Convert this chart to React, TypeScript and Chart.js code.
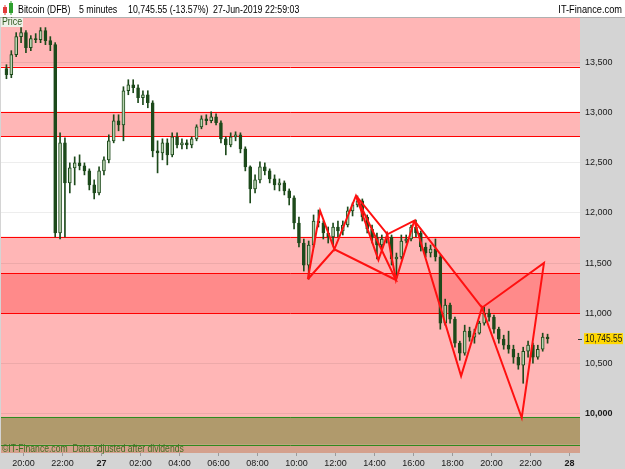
import React, { useEffect, useRef } from 'react';
import { Chart, registerables } from 'chart.js';

Chart.register(...registerables);

// 15-minute candles, first one starts 26-Jun-2019 19:00 (x = hours since 26-Jun 00:00)
const firstCandleHour = 19;
const candleStepHours = 0.25;

const candleOpen = [
  13440, 13380, 13580, 13760, 13800, 13650, 13740, 13730, 13820, 13720,
  13680, 11800, 12700, 12300, 12450, 12500, 12470, 12420, 12280, 12200,
  12420, 12530, 12720, 12920, 12880, 13220, 13280, 13250, 13150, 13180,
  13100, 12620, 12600, 12700, 12580, 12760, 12680, 12700, 12680, 12740,
  12860, 12940, 12920, 12960, 12900, 12740, 12680, 12760, 12780, 12640,
  12460, 12240, 12330, 12460, 12420, 12340, 12280, 12300, 12220, 12150,
  11900, 11700, 11480, 11680, 11920, 11900, 11800, 11760, 11860, 11820,
  11880, 12020, 12080, 12120, 11960, 11840, 11760, 11680, 11740, 11760,
  11540, 11560, 11720, 11740, 11860, 11800, 11660, 11600, 11640, 11560,
  10900, 11080, 10940, 10700, 10600, 10820, 10760, 10800, 10900, 11000,
  10960, 10840, 10740, 10680, 10640, 10560, 10480, 10620, 10680, 10560,
  10640, 10760,
];
const candleHigh = [
  13480, 13620, 13800, 13850, 13820, 13770, 13790, 13850, 13850, 13760,
  13700, 12800, 12750, 12500, 12560, 12580, 12500, 12440, 12330, 12460,
  12560, 12780, 12980, 12980, 13260, 13330, 13330, 13280, 13220, 13220,
  13120, 12720, 12740, 12740, 12800, 12800, 12740, 12730, 12760, 12880,
  12970, 12980, 13010, 12990, 12920, 12760, 12800, 12810, 12800, 12660,
  12470, 12380, 12510, 12500, 12440, 12380, 12340, 12320, 12240, 12170,
  11960, 11740, 11720, 11980, 12030, 11920, 11860, 11900, 11920, 11920,
  12060, 12100, 12170, 12140, 11980, 11880, 11800, 11780, 11810, 11780,
  11600, 11780, 11780, 11880, 11930, 11820, 11700, 11680, 11740, 11580,
  11140, 11100, 10960, 10720, 10880, 10860, 10840, 10920, 11060, 11040,
  10980, 10860, 10780, 10820, 10680, 10600, 10660, 10720, 10700, 10680,
  10800, 10790,
];
const candleLow = [
  13340, 13350, 13560, 13700, 13600, 13620, 13700, 13700, 13680, 13620,
  11760, 11740, 11760, 12200, 12280, 12430, 12380, 12230, 12140, 12180,
  12380, 12500, 12700, 12820, 12720, 13180, 13200, 13100, 13080, 13050,
  12560, 12400, 12530, 12480, 12560, 12650, 12640, 12640, 12650, 12720,
  12840, 12880, 12900, 12880, 12700, 12580, 12660, 12720, 12600, 12420,
  12100, 12200, 12300, 12380, 12300, 12230, 12220, 12180, 12080, 11840,
  11660, 11420, 11340, 11660, 11860, 11740, 11700, 11670, 11760, 11780,
  11860, 11970, 12060, 11920, 11800, 11700, 11540, 11620, 11700, 11480,
  11350, 11540, 11700, 11720, 11760, 11620, 11560, 11560, 11520, 10840,
  10880, 10900, 10660, 10530, 10580, 10720, 10700, 10790, 10880, 10920,
  10800, 10700, 10640, 10600, 10500, 10440, 10300, 10560, 10500, 10540,
  10620, 10700,
];
const candleClose = [
  13380, 13580, 13760, 13800, 13650, 13740, 13730, 13820, 13720, 13680,
  11800, 12700, 12300, 12450, 12500, 12470, 12420, 12280, 12200, 12420,
  12530, 12720, 12920, 12880, 13220, 13280, 13250, 13150, 13180, 13100,
  12620, 12600, 12700, 12580, 12760, 12680, 12700, 12680, 12740, 12860,
  12940, 12920, 12960, 12900, 12740, 12680, 12760, 12780, 12640, 12460,
  12240, 12330, 12460, 12420, 12340, 12280, 12300, 12220, 12150, 11900,
  11700, 11480, 11680, 11920, 11900, 11800, 11760, 11860, 11820, 11880,
  12020, 12080, 12120, 11960, 11840, 11760, 11680, 11740, 11760, 11540,
  11560, 11720, 11740, 11860, 11800, 11660, 11600, 11640, 11560, 10900,
  11080, 10940, 10700, 10600, 10820, 10760, 10800, 10900, 11000, 10960,
  10840, 10740, 10680, 10640, 10560, 10480, 10620, 10680, 10560, 10640,
  10760, 10745.55,
];

// Harmonic pattern pivots X, A, B, C, D (hours, price)
const pattern1Hours = [34.58, 35.21, 35.94, 37.05, 39.1];
const pattern1Prices = [11338, 12022, 11637, 12172, 11331];
const pattern2Hours = [37.05, 38.2, 38.66, 39.1, 40.04];
const pattern2Prices = [12172, 11530, 11787, 11331, 11923];
const pattern3Hours = [40.04, 42.44, 43.51, 45.55, 46.69];
const pattern3Prices = [11923, 10372, 11054, 9956, 11500];

// Horizontal support / resistance levels
const redLevels = [13460, 13010, 12765, 11763, 11401, 11000];
const greenLevels = [9965, 9685];
// Background zones: upper / lower price (null = chart edge)
const zoneUpper = [null, 13010, 11763, 11401, 11000, 9965, 9685];
const zoneLower = [13460, 12765, 11401, 11000, 9965, 9685, null];
const zoneKinds = ['pink', 'pink', 'pink', 'salmon', 'pink', 'tan', 'strip'];

const timeTickHours = [20, 22, 24, 26, 28, 30, 32, 34, 36, 38, 40, 42, 44, 46, 48];
const timeTickLabels = ['20:00', '22:00', '27', '02:00', '04:00', '06:00', '08:00', '10:00', '12:00', '14:00', '16:00', '18:00', '20:00', '22:00', '28'];
const priceTicks = [10000, 10500, 11000, 11500, 12000, 12500, 13000, 13500];
const priceTickLabels = ['10,000', '10,500', '11,000', '11,500', '12,000', '12,500', '13,000', '13,500'];

const lastPrice = 10745.55;
const lastPriceLabel = '10,745.55';
const headerParts = ['Bitcoin (DFB)', '5 minutes', '10,745.55 (-13.57%)', '27-Jun-2019 22:59:03'];
const headerRight = 'IT-Finance.com';
const footerText = '\u00A9IT-Finance.com  Data adjusted after dividends';

const FONT = '"Liberation Sans", Arial, sans-serif';
const ZONE_COLORS: Record<string, string> = {
  pink: '#ffb6b6',
  salmon: '#ff8a8a',
  tan: '#b09a6c',
  strip: '#d4a08c',
};
const CANDLE_DARK = '#1d4a1b';
const CANDLE_LIGHT = '#b9d3b0';

function patternPath(hours: number[], prices: number[]) {
  const order = [0, 1, 2, 3, 4, 2, 0];
  return order.map((i) => ({ x: hours[i], y: prices[i] }));
}

function narrowText(ctx: CanvasRenderingContext2D, text: string, x: number, y: number, sx: number, align: CanvasTextAlign) {
  ctx.save();
  ctx.translate(x, y);
  ctx.scale(sx, 1);
  ctx.textAlign = align;
  ctx.fillText(text, 0, 0);
  ctx.restore();
}

export default function App() {
  const ref = useRef<HTMLCanvasElement>(null);

  useEffect(() => {
    const canvas = ref.current;
    if (!canvas) return;

    const hours = candleClose.map((_, i) => firstCandleHour + (i + 0.5) * candleStepHours);
    const up = candleClose.map((c, i) => c >= candleOpen[i]);

    const bgPlugin = {
      id: 'bgPlugin',
      beforeDraw(chart: any) {
        const { ctx, chartArea: a } = chart;
        const y = chart.scales.y;
        ctx.save();
        ctx.fillStyle = '#d4d4d4';
        ctx.fillRect(0, 0, chart.width, chart.height);
        ctx.fillStyle = '#ffffff';
        ctx.fillRect(0, 0, chart.width, 17);
        ctx.fillStyle = '#b0b0b0';
        ctx.fillRect(0, 17, chart.width, 1);
        ctx.fillStyle = '#ffffff';
        ctx.fillRect(a.left, a.top, a.right - a.left, a.bottom - a.top);
        zoneKinds.forEach((k, i) => {
          const top = zoneUpper[i] == null ? a.top : y.getPixelForValue(zoneUpper[i]);
          const bot = zoneLower[i] == null ? a.bottom : y.getPixelForValue(zoneLower[i]);
          ctx.fillStyle = ZONE_COLORS[k];
          ctx.fillRect(a.left, top, a.right - a.left, bot - top);
        });
        ctx.restore();
      },
      beforeDatasetsDraw(chart: any) {
        const { ctx, chartArea: a } = chart;
        const y = chart.scales.y;
        ctx.save();
        ctx.lineWidth = 1;
        ctx.strokeStyle = '#ff0000';
        redLevels.forEach((v) => {
          const py = Math.round(y.getPixelForValue(v)) + 0.5;
          ctx.beginPath();
          ctx.moveTo(a.left, py);
          ctx.lineTo(a.right, py);
          ctx.stroke();
        });
        ctx.strokeStyle = '#2f8a1f';
        greenLevels.forEach((v) => {
          const py = Math.round(y.getPixelForValue(v)) + 0.5;
          ctx.beginPath();
          ctx.moveTo(a.left, py);
          ctx.lineTo(a.right, py);
          ctx.stroke();
        });
        ctx.restore();
      },
      afterDraw(chart: any) {
        const { ctx, chartArea: a } = chart;
        const y = chart.scales.y;
        ctx.save();
        // header icon
        ctx.fillStyle = '#e23b3b';
        ctx.fillRect(3, 7, 4, 6);
        ctx.fillRect(4.5, 5, 1, 10);
        ctx.fillStyle = '#2ea02e';
        ctx.fillRect(9, 3, 4, 10);
        ctx.fillRect(10.5, 1, 1, 14);
        // header text
        ctx.fillStyle = '#000000';
        ctx.font = '10.5px ' + FONT;
        ctx.textBaseline = 'alphabetic';
        const xs = [18, 79, 128, 213];
        headerParts.forEach((t, i) => narrowText(ctx, t, xs[i], 13, 0.84, 'left'));
        narrowText(ctx, headerRight, 622, 13, 0.88, 'right');
        // Price box
        ctx.fillStyle = '#eef1e8';
        ctx.fillRect(1, 18, 22, 9);
        ctx.fillStyle = '#2f5a1f';
        ctx.font = '10px ' + FONT;
        ctx.textBaseline = 'middle';
        narrowText(ctx, 'Price', 2, 22.5, 0.88, 'left');
        // footer
        ctx.fillStyle = '#3f6e22';
        ctx.font = '10px ' + FONT;
        narrowText(ctx, footerText, 2, a.bottom - 4, 0.86, 'left');
        // last price tag
        const py = y.getPixelForValue(lastPrice);
        ctx.fillStyle = '#333333';
        ctx.fillRect(a.right - 2, Math.round(py), 4, 1);
        ctx.fillStyle = '#ffd700';
        ctx.fillRect(a.right + 4, py - 5.5, 39, 11);
        ctx.fillStyle = '#1a1a1a';
        ctx.font = '10px ' + FONT;
        narrowText(ctx, lastPriceLabel, a.right + 5, py + 0.5, 0.84, 'left');
        ctx.restore();
      },
    };

    const chart = new Chart(canvas, {
      type: 'bar',
      data: {
        datasets: [
          {
            type: 'line',
            data: patternPath(pattern1Hours, pattern1Prices),
            borderColor: '#ff1010',
            borderWidth: 2,
            pointRadius: 0,
            fill: false,
            tension: 0,
            order: 0,
          } as any,
          {
            type: 'line',
            data: patternPath(pattern2Hours, pattern2Prices),
            borderColor: '#ff1010',
            borderWidth: 2,
            pointRadius: 0,
            fill: false,
            tension: 0,
            order: 0,
          } as any,
          {
            type: 'line',
            data: patternPath(pattern3Hours, pattern3Prices),
            borderColor: '#ff1010',
            borderWidth: 2,
            pointRadius: 0,
            fill: false,
            tension: 0,
            order: 0,
          } as any,
          {
            type: 'bar',
            data: hours.map((h, i) => ({ x: h, y: [candleOpen[i], candleClose[i]] })),
            backgroundColor: up.map((u) => (u ? CANDLE_LIGHT : CANDLE_DARK)),
            borderColor: CANDLE_DARK,
            borderWidth: 1,
            borderSkipped: false,
            barThickness: 3,
            grouped: false,
            order: 1,
          } as any,
          {
            type: 'bar',
            data: hours.map((h, i) => ({ x: h, y: [candleLow[i], candleHigh[i]] })),
            backgroundColor: CANDLE_DARK,
            borderWidth: 0,
            barThickness: 1,
            grouped: false,
            order: 2,
          } as any,
        ],
      },
      options: {
        responsive: false,
        animation: false,
        devicePixelRatio: 1,
        layout: { padding: { top: 18, left: 1, right: 0, bottom: 0 }, autoPadding: false } as any,
        plugins: {
          legend: { display: false },
          tooltip: { enabled: false },
        },
        scales: {
          x: {
            type: 'linear',
            position: 'bottom',
            min: 18.846,
            max: 48.538,
            offset: false,
            grid: { display: true, drawOnChartArea: false, drawTicks: true, tickLength: 3, color: '#9a9a9a', offset: false } as any,
            border: { display: false },
            afterBuildTicks: (scale: any) => {
              scale.ticks = timeTickHours.map((v) => ({ value: v }));
            },
            afterFit: (scale: any) => {
              scale.height = 16;
            },
            ticks: {
              autoSkip: false,
              maxRotation: 0,
              padding: 2,
              color: '#1a1a1a',
              font: (c: any) => {
                const lbl = timeTickLabels[timeTickHours.indexOf(c.tick?.value)] || '';
                return { family: FONT, size: 9, weight: lbl.length <= 2 ? 'bold' : 'normal' };
              },
              callback: (v: any) => timeTickLabels[timeTickHours.indexOf(Number(v))] ?? '',
            },
          } as any,
          y: {
            type: 'linear',
            position: 'right',
            min: 9604,
            max: 13946,
            beginAtZero: false,
            grid: { color: 'rgba(0,0,0,0.07)', drawTicks: false },
            border: { display: false },
            afterBuildTicks: (scale: any) => {
              scale.ticks = priceTicks.map((v) => ({ value: v }));
            },
            afterFit: (scale: any) => {
              scale.width = 45;
            },
            ticks: {
              padding: 5,
              color: '#1a1a1a',
              font: (c: any) => ({ family: FONT, size: 9, weight: c.tick?.value === 10000 ? 'bold' : 'normal' }),
              callback: (v: any) => priceTickLabels[priceTicks.indexOf(Number(v))] ?? '',
            },
          } as any,
        },
      },
      plugins: [bgPlugin],
    });

    return () => chart.destroy();
  }, []);

  return (
    <div style={{ position: 'absolute', left: 0, top: 0, width: 625, height: 469 }}>
      <canvas ref={ref} width={625} height={469} style={{ display: 'block' }} />
    </div>
  );
}
